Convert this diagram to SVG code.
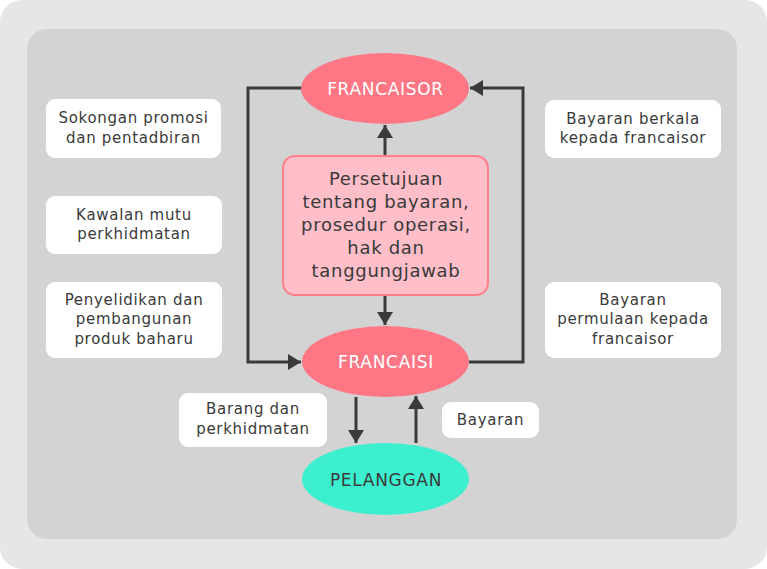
<svg xmlns="http://www.w3.org/2000/svg" width="767" height="569" viewBox="0 0 767 569">
<defs>
<style>
.box{fill:#ffffff;}
.t{font-family:"DejaVu Sans","Open Sans",sans-serif;font-size:15px;letter-spacing:0.7px;fill:#3a3a3a;text-anchor:middle;}
.tc{font-family:"DejaVu Sans","Open Sans",sans-serif;font-size:18px;letter-spacing:0.7px;fill:#3a3a3a;text-anchor:middle;}
.te{font-family:"DejaVu Sans","Open Sans",sans-serif;font-size:17px;letter-spacing:0.7px;text-anchor:middle;}
.ln{fill:none;stroke:#3a3a3a;stroke-width:3;}
</style>
<marker id="ah" viewBox="0 0 13 16" refX="13" refY="8" markerWidth="4.4" markerHeight="5.4" markerUnits="strokeWidth" orient="auto">
<path d="M0,0 L13,8 L0,16 Z" fill="#3a3a3a"/>
</marker>
</defs>
<rect x="0" y="0" width="767" height="569" rx="22" fill="#e6e6e6"/>
<rect x="27" y="29" width="710" height="510" rx="20" fill="#d3d3d3"/>

<g id="connectors">
<path class="ln" d="M302,88 H248 V362 H301" marker-end="url(#ah)"/>
<path class="ln" d="M469,362 H523 V88 H470" marker-end="url(#ah)"/>
<path class="ln" d="M385,156 V125" marker-end="url(#ah)"/>
<path class="ln" d="M385,295 V325" marker-end="url(#ah)"/>
<path class="ln" d="M356,397 V443" marker-end="url(#ah)"/>
<path class="ln" d="M416,443 V396" marker-end="url(#ah)"/>
</g>

<g id="francaisor">
<ellipse cx="385" cy="88.5" rx="84" ry="35.5" fill="#ff7784"/>
<text class="te" x="385.5" y="95" fill="#ffffff">FRANCAISOR</text>
</g>
<g id="persetujuan">
<rect x="283" y="156" width="205" height="139" rx="12" fill="#ffbec8" stroke="#ff7f8a" stroke-width="2"/>
<text class="tc" x="386" y="184.5">Persetujuan</text>
<text class="tc" x="386" y="207.5">tentang bayaran,</text>
<text class="tc" x="386" y="230.5">prosedur operasi,</text>
<text class="tc" x="386" y="253.5">hak dan</text>
<text class="tc" x="386" y="276.5">tanggungjawab</text>
</g>
<g id="francaisi">
<ellipse cx="385.5" cy="361.5" rx="83.5" ry="35.5" fill="#ff7784"/>
<text class="te" x="386" y="368" fill="#ffffff">FRANCAISI</text>
</g>
<g id="pelanggan">
<ellipse cx="385.5" cy="479" rx="83.5" ry="36" fill="#3cf0cf"/>
<text class="te" x="386" y="485.5" fill="#3a3a3a">PELANGGAN</text>
</g>

<g id="sokongan">
<rect class="box" x="46" y="99" width="175" height="59" rx="9"/>
<text class="t" x="133.5" y="123">Sokongan promosi</text>
<text class="t" x="133.5" y="142.5">dan pentadbiran</text>
</g>
<g id="kawalan">
<rect class="box" x="46" y="196" width="176" height="58" rx="9"/>
<text class="t" x="134" y="219.5">Kawalan mutu</text>
<text class="t" x="134" y="239">perkhidmatan</text>
</g>
<g id="penyelidikan">
<rect class="box" x="46" y="282" width="176" height="76" rx="9"/>
<text class="t" x="134" y="304.5">Penyelidikan dan</text>
<text class="t" x="134" y="324">pembangunan</text>
<text class="t" x="134" y="343.5">produk baharu</text>
</g>
<g id="berkala">
<rect class="box" x="545" y="100" width="176" height="58" rx="9"/>
<text class="t" x="633" y="123.5">Bayaran berkala</text>
<text class="t" x="633" y="143">kepada francaisor</text>
</g>
<g id="permulaan">
<rect class="box" x="545" y="282" width="176" height="76" rx="9"/>
<text class="t" x="633" y="304.5">Bayaran</text>
<text class="t" x="633" y="324">permulaan kepada</text>
<text class="t" x="633" y="343.5">francaisor</text>
</g>
<g id="barang">
<rect class="box" x="179" y="393" width="148" height="54" rx="9"/>
<text class="t" x="253" y="414">Barang dan</text>
<text class="t" x="253" y="433.5">perkhidmatan</text>
</g>
<g id="bayaran">
<rect class="box" x="442" y="402" width="97" height="36" rx="9"/>
<text class="t" x="490.5" y="425">Bayaran</text>
</g>
</svg>
